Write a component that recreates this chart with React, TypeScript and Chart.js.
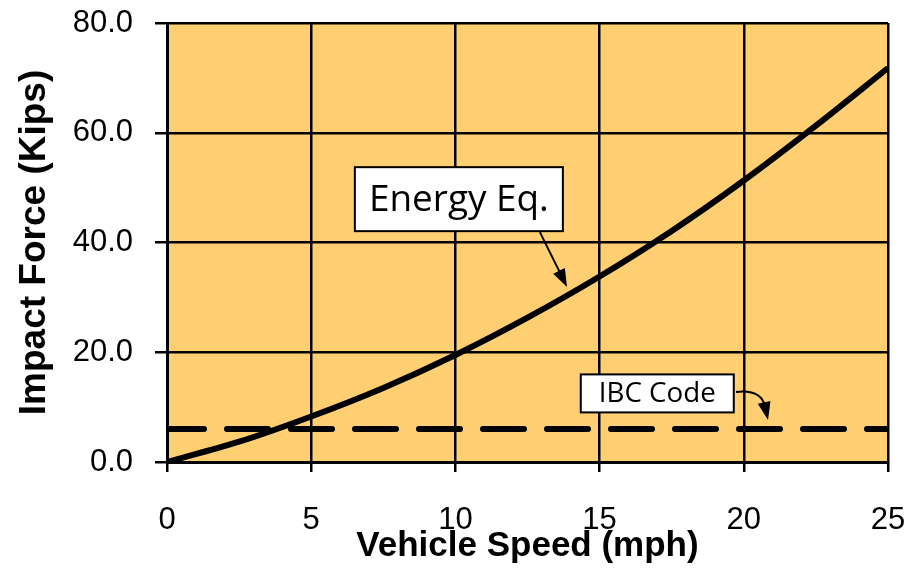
import { useEffect, useRef } from "react";
import { Chart, registerables } from "chart.js";

Chart.register(...registerables);

// ---- data ----
const speeds = [0, 2.5, 5, 7.5, 10, 12.5, 15, 17.5, 20, 22.5, 25];
const energyForce = [0, 3.7, 8.3, 13.5, 19.5, 26.3, 33.8, 42.1, 51.3, 61.3, 71.8];
const ibcSpeeds = [0, 25];
const ibcForce = [6, 6];
const xTickValues = [0, 5, 10, 15, 20, 25];
const yTickValues = [0, 20, 40, 60, 80];
const yTickLabels = ["0.0", "20.0", "40.0", "60.0", "80.0"];
const xTitle = "Vehicle Speed (mph)";
const yTitle = "Impact Force (Kips)";
const energyLabel = "Energy Eq.";
const ibcLabel = "IBC Code";

// ---- styles ----
const W = 919;
const H = 571;
const PLOT_BG = "rgb(255, 207, 114)";
const SANS = '"Liberation Sans", Arial, sans-serif';
const LABEL_FAMILY = '"Open Sans", "Noto Sans", sans-serif';

function fitFont(ctx: CanvasRenderingContext2D, text: string, width: number, family: string) {
  ctx.font = `100px ${family}`;
  const w = ctx.measureText(text).width;
  return (100 * width) / w;
}

function drawBoxLabel(
  ctx: CanvasRenderingContext2D,
  cx: number,
  cy: number,
  w: number,
  h: number,
  text: string,
  textWidth: number
) {
  ctx.save();
  ctx.fillStyle = "#ffffff";
  ctx.fillRect(cx - w / 2, cy - h / 2, w, h);
  ctx.lineWidth = 2;
  ctx.strokeStyle = "#000000";
  ctx.strokeRect(cx - w / 2, cy - h / 2, w, h);
  const size = fitFont(ctx, text, textWidth, LABEL_FAMILY);
  ctx.font = `${size}px ${LABEL_FAMILY}`;
  ctx.fillStyle = "#000000";
  ctx.textAlign = "center";
  ctx.textBaseline = "middle";
  ctx.fillText(text, cx, cy + 1);
  ctx.restore();
}

function arrowHead(ctx: CanvasRenderingContext2D, tx: number, ty: number, ang: number, len: number, half: number) {
  ctx.beginPath();
  ctx.moveTo(tx, ty);
  ctx.lineTo(tx - len * Math.cos(ang) - half * Math.sin(ang), ty - len * Math.sin(ang) + half * Math.cos(ang));
  ctx.lineTo(tx - len * Math.cos(ang) + half * Math.sin(ang), ty - len * Math.sin(ang) - half * Math.cos(ang));
  ctx.closePath();
  ctx.fill();
}

const plotPlugin = {
  id: "plotDecor",
  beforeDraw(chart: any) {
    const { ctx, chartArea: a } = chart;
    ctx.save();
    ctx.fillStyle = PLOT_BG;
    ctx.fillRect(a.left, a.top, a.right - a.left, a.bottom - a.top);
    ctx.restore();
  },
  afterDraw(chart: any) {
    const { ctx } = chart;
    const xs = chart.scales.x;
    const ys = chart.scales.y;
    const px = (v: number) => xs.getPixelForValue(v);
    const py = (v: number) => ys.getPixelForValue(v);

    ctx.save();
    ctx.strokeStyle = "#000";
    ctx.fillStyle = "#000";
    ctx.lineWidth = 2;

    // Energy Eq. arrow
    const sx = px(12.93), sy = py(41.9);
    const tx = px(13.87), ty = py(31.9);
    const ang = Math.atan2(ty - sy, tx - sx);
    ctx.beginPath();
    ctx.moveTo(sx, sy);
    ctx.lineTo(tx - 14 * Math.cos(ang), ty - 14 * Math.sin(ang));
    ctx.stroke();
    arrowHead(ctx, tx, ty, ang, 18, 6.5);

    // IBC arrow (curved)
    const s2x = px(19.73), s2y = py(12.76);
    const c2x = px(20.6), c2y = py(13.3);
    const t2x = px(20.84), t2y = py(7.65);
    const ang2 = Math.atan2(t2y - c2y, t2x - c2x);
    ctx.beginPath();
    ctx.moveTo(s2x, s2y);
    ctx.quadraticCurveTo(c2x, c2y, t2x - 14 * Math.cos(ang2), t2y - 14 * Math.sin(ang2));
    ctx.stroke();
    arrowHead(ctx, t2x, t2y, ang2, 18, 6.5);
    ctx.restore();

    drawBoxLabel(ctx, px(10.12), py(47.9), 208, 64, energyLabel, 180);
    drawBoxLabel(ctx, px(17.0), py(12.5), 153, 38, ibcLabel, 117);
  },
};

function zeroPadding(scale: any) {
  scale.paddingTop = 0;
  scale.paddingBottom = 0;
  scale.paddingLeft = 0;
  scale.paddingRight = 0;
}

export default function App() {
  const canvasRef = useRef<HTMLCanvasElement | null>(null);

  useEffect(() => {
    document.body.style.margin = "0";
    const canvas = canvasRef.current;
    if (!canvas) return;
    const chart = new Chart(canvas, {
      type: "line",
      data: {
        datasets: [
          {
            label: energyLabel,
            data: speeds.map((s, i) => ({ x: s, y: energyForce[i] })),
            borderColor: "#000",
            borderWidth: 6,
            pointRadius: 0,
            tension: 0.4,
            cubicInterpolationMode: "monotone",
            fill: false,
          },
          {
            label: ibcLabel,
            data: ibcSpeeds.map((s, i) => ({ x: s, y: ibcForce[i] })),
            borderColor: "#000",
            borderWidth: 6,
            borderDash: [41, 23],
            borderDashOffset: 4,
            borderCapStyle: "round",
            pointRadius: 0,
            fill: false,
            clip: 0,
          },
        ],
      },
      options: {
        responsive: false,
        animation: false,
        devicePixelRatio: 1,
        layout: { padding: { top: 23, right: 31, left: 0, bottom: 0 } },
        plugins: {
          legend: { display: false },
          tooltip: { enabled: false },
        },
        scales: {
          x: {
            type: "linear",
            min: 0,
            max: 25,
            afterBuildTicks: (scale: any) => {
              scale.ticks = xTickValues.map((v) => ({ value: v }));
            },
            afterFit: (scale: any) => {
              scale.height = H - 462;
              zeroPadding(scale);
            },
            ticks: {
              color: "#000",
              padding: 30,
              font: { family: SANS, size: 31 },
              callback: (v: any) => String(v),
            },
            grid: { color: "#000", lineWidth: 2.5, tickLength: 10, tickWidth: 2.5, tickColor: "#000" },
            border: { color: "#000", width: 3 },
            title: {
              display: true,
              text: xTitle,
              color: "#000",
              font: { family: SANS, size: 35, weight: "bold" },
              padding: { top: 0, bottom: 4 },
            },
          },
          y: {
            type: "linear",
            min: 0,
            max: 80,
            afterBuildTicks: (scale: any) => {
              scale.ticks = yTickValues.map((v) => ({ value: v }));
            },
            afterFit: (scale: any) => {
              scale.width = 167;
              zeroPadding(scale);
            },
            ticks: {
              color: "#000",
              padding: 22,
              font: { family: SANS, size: 31 },
              callback: (v: any) => yTickLabels[yTickValues.indexOf(Number(v))] ?? "",
            },
            grid: { color: "#000", lineWidth: 2.5, tickLength: 12, tickWidth: 2.5, tickColor: "#000" },
            border: { color: "#000", width: 3 },
            title: {
              display: true,
              text: yTitle,
              color: "#000",
              font: { family: SANS, size: 37, weight: "bold" },
              padding: { top: 13, bottom: 0 },
            },
          },
        },
      },
      plugins: [plotPlugin],
    } as any);
    return () => chart.destroy();
  }, []);

  return (
    <div style={{ width: W, height: H }}>
      <canvas ref={canvasRef} width={W} height={H} style={{ width: W, height: H, display: "block" }} />
    </div>
  );
}
